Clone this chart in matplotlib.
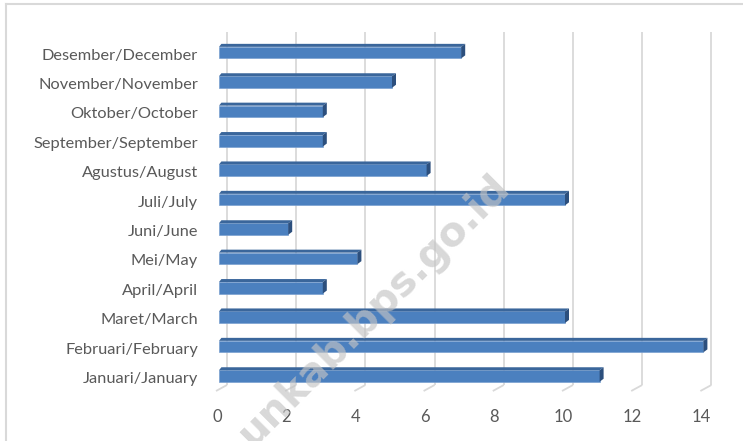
import matplotlib
matplotlib.use("Agg")
import matplotlib.pyplot as plt
from matplotlib.patches import Polygon
from matplotlib.lines import Line2D

# ---- data ----
months = ["Januari/January", "Februari/February", "Maret/March", "April/April",
          "Mei/May", "Juni/June", "Juli/July", "Agustus/August",
          "September/September", "Oktober/October", "November/November",
          "Desember/December"]
values = [11, 14, 10, 3, 4, 2, 10, 6, 3, 3, 5, 7]
xticks = [0, 2, 4, 6, 8, 10, 12, 14]
xtick_labels = ["0", "2", "4", "6", "8", "10", "12", "14"]
watermark = "unkab.bps.go.id"

# ---- layout (pixel based styling) ----
W, H, DPI = 743, 441, 100
PXU = 34.6          # px per unit
X0 = 219            # px of bar front zero
ROW = 29.4          # px per row
R0 = 376            # px (from top) of first row centre

AX_L, AX_R, AX_T, AX_B = 200, 735, 10, 435

def ux(px):  # px length -> data x length
    return px / PXU

def uy(px):
    return px / ROW

fig = plt.figure(figsize=(W / DPI, H / DPI), dpi=DPI)
ax = fig.add_axes([AX_L / W, 1 - AX_B / H, (AX_R - AX_L) / W, (AX_B - AX_T) / H])
ax.set_xlim((AX_L - X0) / PXU, (AX_R - X0) / PXU)
ax.set_ylim((R0 - AX_B) / ROW, (R0 - AX_T) / ROW)
ax.axis("off")

font = "Lato"
txt_col = "#595959"
grid_col = "#d9d9d9"

# gridlines on back wall + floor diagonals
g_dx = ux(8)
g_bot = (R0 - 385) / ROW
g_top = (R0 - 32) / ROW
f_dx, f_dy = ux(-11), uy(-6)
for v in xticks:
    ax.plot([v + g_dx, v + g_dx], [g_bot, g_top], color=grid_col, lw=1.3,
            zorder=1, solid_capstyle="butt")
    ax.plot([v + g_dx, v + g_dx + f_dx], [g_bot, g_bot + f_dy], color=grid_col,
            lw=1.3, zorder=1, solid_capstyle="butt")

# tick labels
for v, lab in zip(xticks, xtick_labels):
    ax.text(v - ux(2), (R0 - 417) / ROW, lab, ha="center", va="center",
            fontsize=12, color=txt_col, family=font)

# bars (3D look)
ys = list(range(len(months)))
h = uy(11.5)
ddx, ddy = ux(4), uy(3)
front = "#4b80bf"
top_c = "#3a669b"
side_c = "#2c4f7d"
ax.barh(ys, values, height=h, left=0, color=front, edgecolor="#7aa0d0",
        linewidth=0.5, zorder=3)
for y, v in zip(ys, values):
    t = y + h / 2
    ax.add_patch(Polygon([(0, t), (v, t), (v + ddx, t + ddy), (ddx * 0.6, t + ddy)],
                         closed=True, facecolor=top_c, edgecolor="none", zorder=3))
    ax.add_patch(Polygon([(v, t), (v + ddx, t + ddy), (v + ddx, t + ddy - h), (v, t - h)],
                         closed=True, facecolor=side_c, edgecolor="none", zorder=3))
    ax.text(ux(198 - X0), y - uy(3), months[y], ha="right", va="center",
            fontsize=11.8, color=txt_col, family=font)

# watermark
fig.text(374 / W, 1 - 310 / H, watermark, rotation=45, rotation_mode="anchor",
         ha="center", va="center", fontsize=29, fontweight="bold",
         color="#c4c4c4", alpha=0.65, family="DejaVu Sans", zorder=10)

# outer border (top and left visible)
fig.add_artist(Line2D([6 / W, 6 / W], [0, 1 - 4 / H], transform=fig.transFigure,
                      color=grid_col, lw=1.5))
fig.add_artist(Line2D([6 / W, 1], [1 - 4 / H, 1 - 4 / H], transform=fig.transFigure,
                      color=grid_col, lw=1.5))

fig.savefig("out.png", dpi=DPI)
